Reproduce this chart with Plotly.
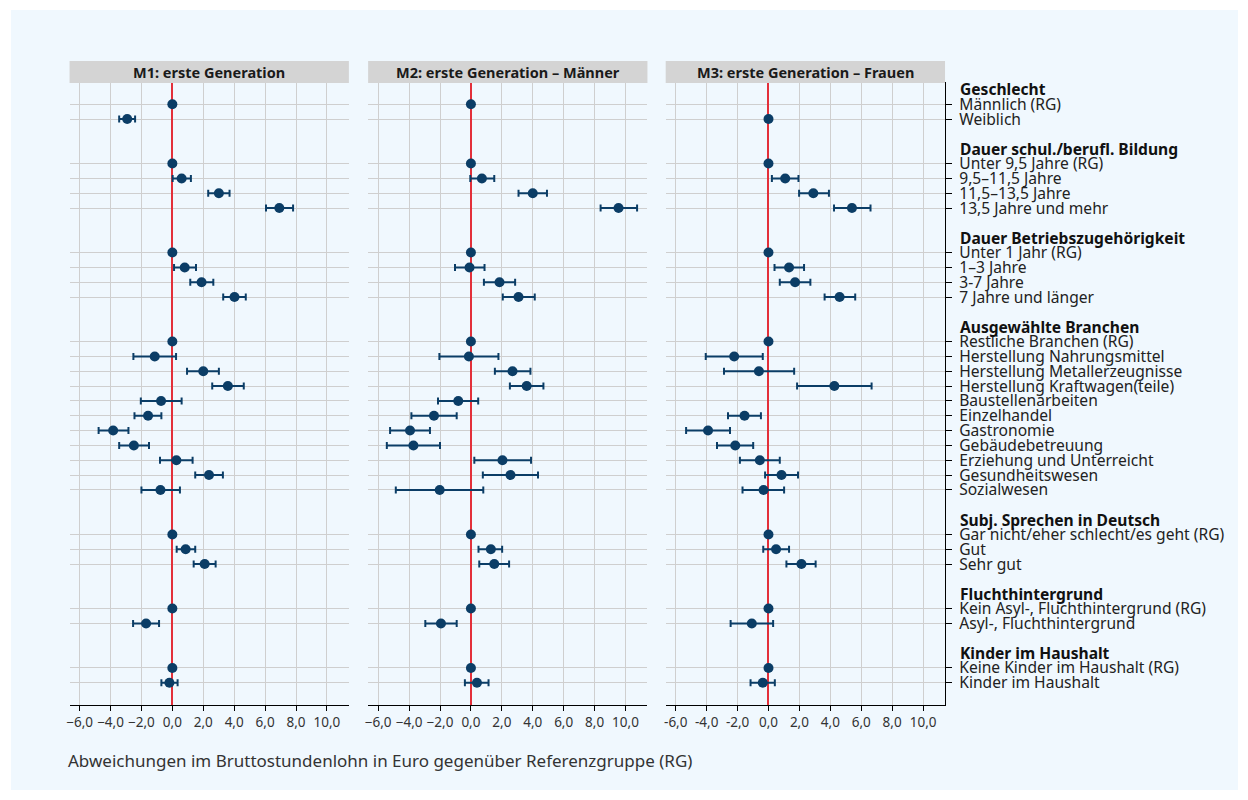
import plotly.graph_objects as go

# ---- data -------------------------------------------------------------
groups = ["Geschlecht", "Dauer schul./berufl. Bildung", "Dauer Betriebszugehörigkeit",
          "Ausgewählte Branchen", "Subj. Sprechen in Deutsch", "Fluchthintergrund",
          "Kinder im Haushalt"]

items = [
    ["Männlich (RG)", "Weiblich"],
    ["Unter 9,5 Jahre (RG)", "9,5–11,5 Jahre", "11,5–13,5 Jahre", "13,5 Jahre und mehr"],
    ["Unter 1 Jahr (RG)", "1–3 Jahre", "3-7 Jahre", "7 Jahre und länger"],
    ["Restliche Branchen (RG)", "Herstellung Nahrungsmittel", "Herstellung Metallerzeugnisse",
     "Herstellung Kraftwagen(teile)", "Baustellenarbeiten", "Einzelhandel", "Gastronomie",
     "Gebäudebetreuung", "Erziehung und Unterreicht", "Gesundheitswesen", "Sozialwesen"],
    ["Gar nicht/eher schlecht/es geht (RG)", "Gut", "Sehr gut"],
    ["Kein Asyl-, Fluchthintergrund (RG)", "Asyl-, Fluchthintergrund"],
    ["Keine Kinder im Haushalt (RG)", "Kinder im Haushalt"],
]

panel_titles = ["M1: erste Generation", "M2: erste Generation – Männer",
                "M3: erste Generation – Frauen"]

# estimates, lower and upper bounds (in item order)
m1_est = [0, -2.92, 0, 0.60, 3.01, 6.92, 0, 0.80, 1.89, 4.02,
          0, -1.14, 2.00, 3.59, -0.73, -1.57, -3.83, -2.49, 0.26, 2.37, -0.77,
          0, 0.86, 2.09, 0, -1.70, 0, -0.19]
m1_lo = [0, -3.44, 0, 0.02, 2.32, 6.06, 0, 0.11, 1.16, 3.29,
         0, -2.52, 0.95, 2.58, -2.04, -2.45, -4.77, -3.44, -0.80, 1.48, -2.00,
         0, 0.28, 1.38, 0, -2.54, 0, -0.71]
m1_hi = [0, -2.41, 0, 1.20, 3.70, 7.81, 0, 1.53, 2.65, 4.75,
         0, 0.24, 3.01, 4.62, 0.60, -0.71, -2.84, -1.51, 1.31, 3.27, 0.49,
         0, 1.48, 2.80, 0, -0.86, 0, 0.34]

m2_est = [0, None, 0, 0.71, 4.00, 9.55, 0, -0.09, 1.85, 3.08,
          0, -0.13, 2.69, 3.61, -0.82, -2.39, -3.94, -3.72, 2.04, 2.56, -2.02,
          0, 1.29, 1.51, 0, -1.94, 0, 0.39]
m2_lo = [0, None, 0, -0.04, 3.08, 8.39, 0, -1.03, 0.84, 2.06,
         0, -2.04, 1.55, 2.52, -2.13, -3.85, -5.23, -5.44, 0.22, 0.77, -4.86,
         0, 0.49, 0.54, 0, -2.95, 0, -0.39]
m2_hi = [0, None, 0, 1.51, 4.92, 10.75, 0, 0.88, 2.86, 4.13,
         0, 1.78, 3.85, 4.69, 0.47, -0.92, -2.65, -2.00, 3.89, 4.34, 0.80,
         0, 2.02, 2.47, 0, -0.92, 0, 1.14]

m3_est = [None, 0, 0, 1.08, 2.90, 5.40, 0, 1.33, 1.72, 4.60,
          0, -2.22, -0.62, 4.26, None, -1.55, -3.91, -2.15, -0.56, 0.84, -0.32,
          0, 0.49, 2.13, 0, -1.08, 0, -0.37]
m3_lo = [None, 0, 0, 0.22, 1.98, 4.24, 0, 0.39, 0.73, 3.63,
         0, -4.06, -2.88, 1.85, None, -2.62, -5.33, -3.33, -1.85, -0.22, -1.68,
         0, -0.34, 1.16, 0, -2.45, 0, -1.16]
m3_hi = [None, 0, 0, 1.94, 3.91, 6.60, 0, 2.30, 2.71, 5.61,
         0, -0.37, 1.66, 6.67, None, -0.49, -2.49, -0.99, 0.73, 1.91, 1.01,
         0, 1.33, 3.05, 0, 0.30, 0, 0.41]

x_ticks = [-6, -4, -2, 0, 2, 4, 6, 8, 10]
x_ticktext_minus = ["−6,0", "−4,0", "−2,0", "0,0", "2,0", "4,0", "6,0", "8,0", "10,0"]
x_ticktext_hyphen = ["-6,0", "-4,0", "-2,0", "0,0", "2,0", "4,0", "6,0", "8,0", "10,0"]

caption = "Abweichungen im Bruttostundenlohn in Euro gegenüber Referenzgruppe (RG)"

# ---- row positions ------------------------------------------------------
header_rows = []
item_rows = []
item_labels = []
r = 0
for g, its in zip(groups, items):
    header_rows.append(r)
    r += 1
    for it in its:
        item_rows.append(r)
        item_labels.append(it)
        r += 1
    r += 1
n_rows = r - 1

W, H = 1232, 784
OFF = 8  # page margin around the figure
FONT = "Noto Sans"
BLUE = "#0b3d66"
BG = "#f0f8fe"
LABEL_SIZE = 15.6


def px(x):
    return (x - OFF) / W


def py(y):
    return 1 - (y - OFF) / H


dom = [(66.7, 346.7), (366, 646), (664.3, 944.3)]
y_top, y_bot = 82, 705

fig = go.Figure()

series = [(m1_est, m1_lo, m1_hi), (m2_est, m2_lo, m2_hi), (m3_est, m3_lo, m3_hi)]
for i, (est, lo, hi) in enumerate(series):
    xs, ys, ep, em = [], [], [], []
    for e, l, h, row in zip(est, lo, hi, item_rows):
        if e is None:
            continue
        xs.append(e)
        ys.append(row)
        ep.append(h - e)
        em.append(e - l)
    sfx = "" if i == 0 else str(i + 1)
    fig.add_trace(go.Scatter(
        x=xs, y=ys, mode="markers",
        marker=dict(size=10, color=BLUE),
        error_x=dict(type="data", array=ep, arrayminus=em, color=BLUE,
                     thickness=2, width=3.5),
        xaxis="x" + sfx, yaxis="y" + sfx, showlegend=False,
        hoverinfo="skip"))

layout = dict(
    width=W, height=H,
    margin=dict(l=0, r=0, t=0, b=0),
    paper_bgcolor="white",
    plot_bgcolor=BG,
    font=dict(family=FONT, color="#222"),
    shapes=[], annotations=[],
)

for i in range(3):
    sfx = "" if i == 0 else str(i + 1)
    x0, x1 = dom[i]
    layout["xaxis" + sfx] = dict(
        domain=[px(x0), px(x1)], anchor="y" + sfx,
        range=[-6.65, 11.42], tickvals=x_ticks,
        ticktext=x_ticktext_hyphen if i == 2 else x_ticktext_minus,
        showgrid=True, gridcolor="#cfcfcf", gridwidth=1.3,
        zeroline=True, zerolinecolor="#e3303a", zerolinewidth=1.5,
        showline=True, linecolor="black", linewidth=1.2,
        ticks="outside", ticklen=5, tickcolor="black", tickwidth=1,
        tickfont=dict(size=13.5, family=FONT, color="#333"),
        fixedrange=True)
    yax = dict(
        domain=[py(y_bot), py(y_top)], anchor="x" + sfx,
        range=[n_rows + 0.5, -0.5], tickvals=item_rows,
        showgrid=True, gridcolor="#cfcfcf", gridwidth=1.3,
        zeroline=False, fixedrange=True)
    if i == 2:
        yax.update(side="right", showline=True, linecolor="black", linewidth=1.2,
                   ticks="outside", ticklen=6, tickcolor="black",
                   ticktext=item_labels, showticklabels=True,
                   ticklabelstandoff=4,
                   tickfont=dict(size=LABEL_SIZE, family=FONT, color="#222"))
    else:
        yax.update(showticklabels=False, ticks="")
    layout["yaxis" + sfx] = yax

    # title strip
    layout["shapes"].append(dict(
        type="rect", xref="paper", yref="paper",
        x0=px(x0), x1=px(x1), y0=py(83), y1=py(61),
        fillcolor="#d4d4d4", line=dict(width=0), layer="above"))
    layout["annotations"].append(dict(
        xref="paper", yref="paper", x=px((x0 + x1) / 2), y=py(72),
        text="<b>" + panel_titles[i] + "</b>", showarrow=False,
        xanchor="center", yanchor="middle",
        font=dict(size=14.5, family=FONT, color="#1a1a1a")))

# outer light-blue panel
layout["shapes"].insert(0, dict(
    type="rect", xref="paper", yref="paper",
    x0=px(8), x1=px(1238), y0=py(790), y1=py(10),
    fillcolor=BG, line=dict(width=0), layer="below"))

# group headers
for g, row in zip(groups, header_rows):
    layout["annotations"].append(dict(
        xref="paper", yref="y3", x=px(957), y=row,
        text="<b>" + g + "</b>", showarrow=False,
        xanchor="left", yanchor="middle",
        font=dict(size=LABEL_SIZE, family=FONT, color="#111")))

layout["annotations"].append(dict(
    xref="paper", yref="paper", x=px(63), y=py(760),
    text=caption, showarrow=False, xanchor="left", yanchor="middle",
    font=dict(size=17, family=FONT, color="#333")))

fig.update_layout(**layout)
fig.write_html("out.html")
